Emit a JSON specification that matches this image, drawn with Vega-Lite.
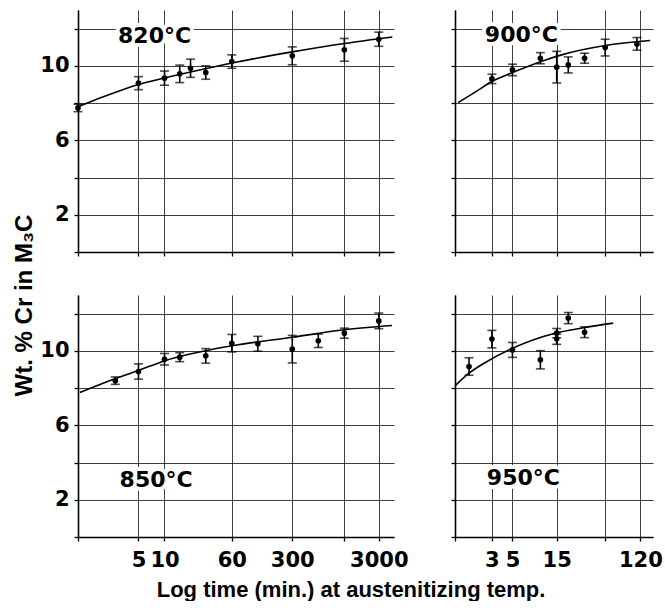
{
  "$schema": "https://vega.github.io/schema/vega-lite/v6.json",
  "padding": {"left": 12, "top": 10, "right": 0, "bottom": 0},
  "background": "white",
  "config": {
    "view": {"stroke": null},
    "axis": {
      "domainColor": "black", "domainWidth": 1.6,
      "tickColor": "black", "tickWidth": 1.3, "tickSize": 4,
      "gridColor": "#111111", "gridWidth": 0.9, "gridOpacity": 0.9,
      "labelFont": "DejaVu Sans", "labelFontWeight": "bold", "labelFontSize": 21, "labelColor": "black",
      "labelPadding": 5, "labelFlush": false, "labelOverlap": false, "labelBound": false
    },
    "axisX": {"labelPadding": 8}
  },
  "datasets": {
    "pts": [
      {"panel": "820", "t": 1, "cr": 7.74, "lo": 7.54, "hi": 7.94},
      {"panel": "820", "t": 5, "cr": 9.07, "lo": 8.72, "hi": 9.42},
      {"panel": "820", "t": 10, "cr": 9.34, "lo": 8.96, "hi": 9.72},
      {"panel": "820", "t": 15, "cr": 9.57, "lo": 9.10, "hi": 10.04},
      {"panel": "820", "t": 20, "cr": 9.87, "lo": 9.38, "hi": 10.36},
      {"panel": "820", "t": 30, "cr": 9.64, "lo": 9.28, "hi": 10.00},
      {"panel": "820", "t": 60, "cr": 10.23, "lo": 9.87, "hi": 10.59},
      {"panel": "820", "t": 300, "cr": 10.54, "lo": 10.06, "hi": 11.02},
      {"panel": "820", "t": 1200, "cr": 10.86, "lo": 10.25, "hi": 11.47},
      {"panel": "820", "t": 3000, "cr": 11.43, "lo": 11.05, "hi": 11.81},
      {"panel": "900", "t": 3, "cr": 9.30, "lo": 9.05, "hi": 9.55},
      {"panel": "900", "t": 5, "cr": 9.78, "lo": 9.47, "hi": 10.09},
      {"panel": "900", "t": 10, "cr": 10.41, "lo": 10.11, "hi": 10.71},
      {"panel": "900", "t": 15, "cr": 9.93, "lo": 9.08, "hi": 10.78},
      {"panel": "900", "t": 20, "cr": 10.05, "lo": 9.62, "hi": 10.48},
      {"panel": "900", "t": 30, "cr": 10.41, "lo": 10.14, "hi": 10.68},
      {"panel": "900", "t": 50, "cr": 10.98, "lo": 10.53, "hi": 11.43},
      {"panel": "900", "t": 110, "cr": 11.18, "lo": 10.84, "hi": 11.52},
      {"panel": "850", "t": 2.7, "cr": 8.40, "lo": 8.20, "hi": 8.60},
      {"panel": "850", "t": 5, "cr": 8.89, "lo": 8.48, "hi": 9.30},
      {"panel": "850", "t": 10, "cr": 9.55, "lo": 9.24, "hi": 9.86},
      {"panel": "850", "t": 15, "cr": 9.66, "lo": 9.42, "hi": 9.90},
      {"panel": "850", "t": 30, "cr": 9.73, "lo": 9.34, "hi": 10.12},
      {"panel": "850", "t": 60, "cr": 10.41, "lo": 9.94, "hi": 10.88},
      {"panel": "850", "t": 120, "cr": 10.38, "lo": 9.98, "hi": 10.78},
      {"panel": "850", "t": 300, "cr": 10.09, "lo": 9.35, "hi": 10.83},
      {"panel": "850", "t": 600, "cr": 10.54, "lo": 10.18, "hi": 10.90},
      {"panel": "850", "t": 1200, "cr": 10.95, "lo": 10.68, "hi": 11.22},
      {"panel": "850", "t": 3000, "cr": 11.61, "lo": 11.19, "hi": 12.03},
      {"panel": "950", "t": 1.7, "cr": 9.16, "lo": 8.69, "hi": 9.63},
      {"panel": "950", "t": 3, "cr": 10.63, "lo": 10.16, "hi": 11.10},
      {"panel": "950", "t": 5, "cr": 10.05, "lo": 9.65, "hi": 10.45},
      {"panel": "950", "t": 10, "cr": 9.52, "lo": 9.03, "hi": 10.01},
      {"panel": "950", "t": 15, "cr": 10.95, "lo": 10.70, "hi": 11.20},
      {"panel": "950", "t": 15, "cr": 10.65, "lo": 10.35, "hi": 10.90},
      {"panel": "950", "t": 20, "cr": 11.76, "lo": 11.46, "hi": 12.06},
      {"panel": "950", "t": 30, "cr": 11.00, "lo": 10.71, "hi": 11.29}
    ],
    "fit": [
      {"panel": "820", "t": 1, "cr": 7.8},
      {"panel": "820", "t": 2, "cr": 8.35},
      {"panel": "820", "t": 5, "cr": 9.0},
      {"panel": "820", "t": 10, "cr": 9.35},
      {"panel": "820", "t": 30, "cr": 9.85},
      {"panel": "820", "t": 60, "cr": 10.15},
      {"panel": "820", "t": 300, "cr": 10.75},
      {"panel": "820", "t": 1200, "cr": 11.2},
      {"panel": "820", "t": 4300, "cr": 11.55},
      {"panel": "900", "t": 1.3, "cr": 8.03},
      {"panel": "900", "t": 2, "cr": 8.6},
      {"panel": "900", "t": 3, "cr": 9.16},
      {"panel": "900", "t": 5, "cr": 9.64},
      {"panel": "900", "t": 12, "cr": 10.36},
      {"panel": "900", "t": 17, "cr": 10.59},
      {"panel": "900", "t": 50, "cr": 11.09},
      {"panel": "900", "t": 153, "cr": 11.36},
      {"panel": "850", "t": 1.05, "cr": 7.76},
      {"panel": "850", "t": 1.95, "cr": 8.26},
      {"panel": "850", "t": 5, "cr": 8.95},
      {"panel": "850", "t": 10, "cr": 9.46},
      {"panel": "850", "t": 60, "cr": 10.27},
      {"panel": "850", "t": 300, "cr": 10.73},
      {"panel": "850", "t": 1200, "cr": 11.13},
      {"panel": "850", "t": 4270, "cr": 11.36},
      {"panel": "950", "t": 1.2, "cr": 8.12},
      {"panel": "950", "t": 1.7, "cr": 8.8},
      {"panel": "950", "t": 2.5, "cr": 9.35},
      {"panel": "950", "t": 5, "cr": 10.14},
      {"panel": "950", "t": 14.4, "cr": 10.95},
      {"panel": "950", "t": 30, "cr": 11.25},
      {"panel": "950", "t": 61, "cr": 11.49}
    ]
  },
  "title": {
    "text": "Wt. % Cr in M₃C", "orient": "left", "anchor": "middle",
    "font": "Liberation Sans", "fontWeight": "bold", "fontSize": 24, "color": "black", "offset": 3
  },
  "vconcat": [
    {
      "title": {
        "text": "Log time (min.) at austenitizing temp.", "orient": "bottom", "anchor": "middle",
        "font": "Liberation Sans", "fontWeight": "bold", "fontSize": 22, "color": "black", "offset": 10
      },
      "columns": 2,
      "spacing": {"row": 43, "column": 61},
      "bounds": "flush",
      "concat": [
        {
          "width": 316, "height": 242,
          "layer": [
            {"data": {"name": "fit"}, "transform": [{"filter": "datum.panel == '820'"}],
              "mark": {"type": "line", "interpolate": "monotone", "color": "black", "strokeWidth": 1.6},
              "encoding": {
                "x": {"field": "t", "type": "quantitative", "title": null,
                  "scale": {"type": "log", "domain": [1, 4500], "nice": false},
                  "axis": {"values": [1, 5, 10, 60, 300, 1200, 3000], "labels": false, "grid": true}},
                "y": {"field": "cr", "type": "quantitative", "title": null,
                  "scale": {"domain": [0, 13], "nice": false, "zero": false},
                  "axis": {"values": [0, 2, 4, 6, 8, 10, 12], "grid": true,
                    "labelExpr": "datum.value == 2 || datum.value == 6 || datum.value == 10 ? datum.label : ''"}}
              }},
            {"data": {"name": "pts"}, "transform": [{"filter": "datum.panel == '820'"}],
              "mark": {"type": "errorbar", "ticks": {"size": 9}, "color": "black", "thickness": 1.6},
              "encoding": {"x": {"field": "t", "type": "quantitative", "title": null}, "y": {"field": "lo", "type": "quantitative", "title": null}, "y2": {"field": "hi"}}},
            {"data": {"name": "pts"}, "transform": [{"filter": "datum.panel == '820'"}],
              "mark": {"type": "point", "filled": true, "color": "black", "size": 32, "opacity": 1},
              "encoding": {"x": {"field": "t", "type": "quantitative", "title": null}, "y": {"field": "cr", "type": "quantitative", "title": null}}},
            {"data": {"values": [{"label": "820°C"}]},
              "mark": {"type": "text", "font": "DejaVu Sans", "fontWeight": "bold", "fontSize": 22, "align": "center", "baseline": "alphabetic", "fill": "white", "stroke": "white", "strokeWidth": 8, "strokeJoin": "round"},
              "encoding": {"x": {"datum": 7.68, "type": "quantitative"}, "y": {"datum": 11.24, "type": "quantitative"}, "text": {"field": "label", "type": "nominal"}}},
            {"data": {"values": [{"label": "820°C"}]},
              "mark": {"type": "text", "font": "DejaVu Sans", "fontWeight": "bold", "fontSize": 22, "align": "center", "baseline": "alphabetic", "fill": "black"},
              "encoding": {"x": {"datum": 7.68, "type": "quantitative"}, "y": {"datum": 11.24, "type": "quantitative"}, "text": {"field": "label", "type": "nominal"}}}
          ]
        },
        {
          "width": 198, "height": 242,
          "layer": [
            {"data": {"name": "fit"}, "transform": [{"filter": "datum.panel == '900'"}],
              "mark": {"type": "line", "interpolate": "monotone", "color": "black", "strokeWidth": 1.6},
              "encoding": {
                "x": {"field": "t", "type": "quantitative", "title": null,
                  "scale": {"type": "log", "domain": [1.2, 164], "nice": false},
                  "axis": {"values": [1.2, 3, 5, 15, 50, 120], "labels": false, "grid": true}},
                "y": {"field": "cr", "type": "quantitative", "title": null,
                  "scale": {"domain": [0, 13], "nice": false, "zero": false},
                  "axis": {"values": [0, 2, 4, 6, 8, 10, 12], "grid": true, "labels": false}}
              }},
            {"data": {"name": "pts"}, "transform": [{"filter": "datum.panel == '900'"}],
              "mark": {"type": "errorbar", "ticks": {"size": 9}, "color": "black", "thickness": 1.6},
              "encoding": {"x": {"field": "t", "type": "quantitative", "title": null}, "y": {"field": "lo", "type": "quantitative", "title": null}, "y2": {"field": "hi"}}},
            {"data": {"name": "pts"}, "transform": [{"filter": "datum.panel == '900'"}],
              "mark": {"type": "point", "filled": true, "color": "black", "size": 32, "opacity": 1},
              "encoding": {"x": {"field": "t", "type": "quantitative", "title": null}, "y": {"field": "cr", "type": "quantitative", "title": null}}},
            {"data": {"values": [{"label": "900°C"}]},
              "mark": {"type": "text", "font": "DejaVu Sans", "fontWeight": "bold", "fontSize": 22, "align": "center", "baseline": "alphabetic", "fill": "white", "stroke": "white", "strokeWidth": 8, "strokeJoin": "round"},
              "encoding": {"x": {"datum": 6.24, "type": "quantitative"}, "y": {"datum": 11.3, "type": "quantitative"}, "text": {"field": "label", "type": "nominal"}}},
            {"data": {"values": [{"label": "900°C"}]},
              "mark": {"type": "text", "font": "DejaVu Sans", "fontWeight": "bold", "fontSize": 22, "align": "center", "baseline": "alphabetic", "fill": "black"},
              "encoding": {"x": {"datum": 6.24, "type": "quantitative"}, "y": {"datum": 11.3, "type": "quantitative"}, "text": {"field": "label", "type": "nominal"}}}
          ]
        },
        {
          "width": 316, "height": 242,
          "layer": [
            {"data": {"name": "fit"}, "transform": [{"filter": "datum.panel == '850'"}],
              "mark": {"type": "line", "interpolate": "monotone", "color": "black", "strokeWidth": 1.6},
              "encoding": {
                "x": {"field": "t", "type": "quantitative", "title": null,
                  "scale": {"type": "log", "domain": [1, 4500], "nice": false},
                  "axis": {"values": [1, 5, 10, 60, 300, 1200, 3000], "grid": true,
                    "labelExpr": "datum.value == 1 || datum.value == 1200 ? '' : format(datum.value, 'd')"}},
                "y": {"field": "cr", "type": "quantitative", "title": null,
                  "scale": {"domain": [0, 13], "nice": false, "zero": false},
                  "axis": {"values": [0, 2, 4, 6, 8, 10, 12], "grid": true,
                    "labelExpr": "datum.value == 2 || datum.value == 6 || datum.value == 10 ? datum.label : ''"}}
              }},
            {"data": {"name": "pts"}, "transform": [{"filter": "datum.panel == '850'"}],
              "mark": {"type": "errorbar", "ticks": {"size": 9}, "color": "black", "thickness": 1.6},
              "encoding": {"x": {"field": "t", "type": "quantitative", "title": null}, "y": {"field": "lo", "type": "quantitative", "title": null}, "y2": {"field": "hi"}}},
            {"data": {"name": "pts"}, "transform": [{"filter": "datum.panel == '850'"}],
              "mark": {"type": "point", "filled": true, "color": "black", "size": 32, "opacity": 1},
              "encoding": {"x": {"field": "t", "type": "quantitative", "title": null}, "y": {"field": "cr", "type": "quantitative", "title": null}}},
            {"data": {"values": [{"label": "850°C"}]},
              "mark": {"type": "text", "font": "DejaVu Sans", "fontWeight": "bold", "fontSize": 22, "align": "center", "baseline": "alphabetic", "fill": "white", "stroke": "white", "strokeWidth": 8, "strokeJoin": "round"},
              "encoding": {"x": {"datum": 8.0, "type": "quantitative"}, "y": {"datum": 2.7, "type": "quantitative"}, "text": {"field": "label", "type": "nominal"}}},
            {"data": {"values": [{"label": "850°C"}]},
              "mark": {"type": "text", "font": "DejaVu Sans", "fontWeight": "bold", "fontSize": 22, "align": "center", "baseline": "alphabetic", "fill": "black"},
              "encoding": {"x": {"datum": 8.0, "type": "quantitative"}, "y": {"datum": 2.7, "type": "quantitative"}, "text": {"field": "label", "type": "nominal"}}}
          ]
        },
        {
          "width": 198, "height": 242,
          "layer": [
            {"data": {"name": "fit"}, "transform": [{"filter": "datum.panel == '950'"}],
              "mark": {"type": "line", "interpolate": "monotone", "color": "black", "strokeWidth": 1.6},
              "encoding": {
                "x": {"field": "t", "type": "quantitative", "title": null,
                  "scale": {"type": "log", "domain": [1.2, 164], "nice": false},
                  "axis": {"values": [1.2, 3, 5, 15, 50, 120], "grid": true,
                    "labelExpr": "datum.value == 1.2 || datum.value == 50 ? '' : format(datum.value, 'd')"}},
                "y": {"field": "cr", "type": "quantitative", "title": null,
                  "scale": {"domain": [0, 13], "nice": false, "zero": false},
                  "axis": {"values": [0, 2, 4, 6, 8, 10, 12], "grid": true, "labels": false}}
              }},
            {"data": {"name": "pts"}, "transform": [{"filter": "datum.panel == '950'"}],
              "mark": {"type": "errorbar", "ticks": {"size": 9}, "color": "black", "thickness": 1.6},
              "encoding": {"x": {"field": "t", "type": "quantitative", "title": null}, "y": {"field": "lo", "type": "quantitative", "title": null}, "y2": {"field": "hi"}}},
            {"data": {"name": "pts"}, "transform": [{"filter": "datum.panel == '950'"}],
              "mark": {"type": "point", "filled": true, "color": "black", "size": 32, "opacity": 1},
              "encoding": {"x": {"field": "t", "type": "quantitative", "title": null}, "y": {"field": "cr", "type": "quantitative", "title": null}}},
            {"data": {"values": [{"label": "950°C"}]},
              "mark": {"type": "text", "font": "DejaVu Sans", "fontWeight": "bold", "fontSize": 22, "align": "center", "baseline": "alphabetic", "fill": "white", "stroke": "white", "strokeWidth": 8, "strokeJoin": "round"},
              "encoding": {"x": {"datum": 6.56, "type": "quantitative"}, "y": {"datum": 2.8, "type": "quantitative"}, "text": {"field": "label", "type": "nominal"}}},
            {"data": {"values": [{"label": "950°C"}]},
              "mark": {"type": "text", "font": "DejaVu Sans", "fontWeight": "bold", "fontSize": 22, "align": "center", "baseline": "alphabetic", "fill": "black"},
              "encoding": {"x": {"datum": 6.56, "type": "quantitative"}, "y": {"datum": 2.8, "type": "quantitative"}, "text": {"field": "label", "type": "nominal"}}}
          ]
        }
      ]
    }
  ]
}
